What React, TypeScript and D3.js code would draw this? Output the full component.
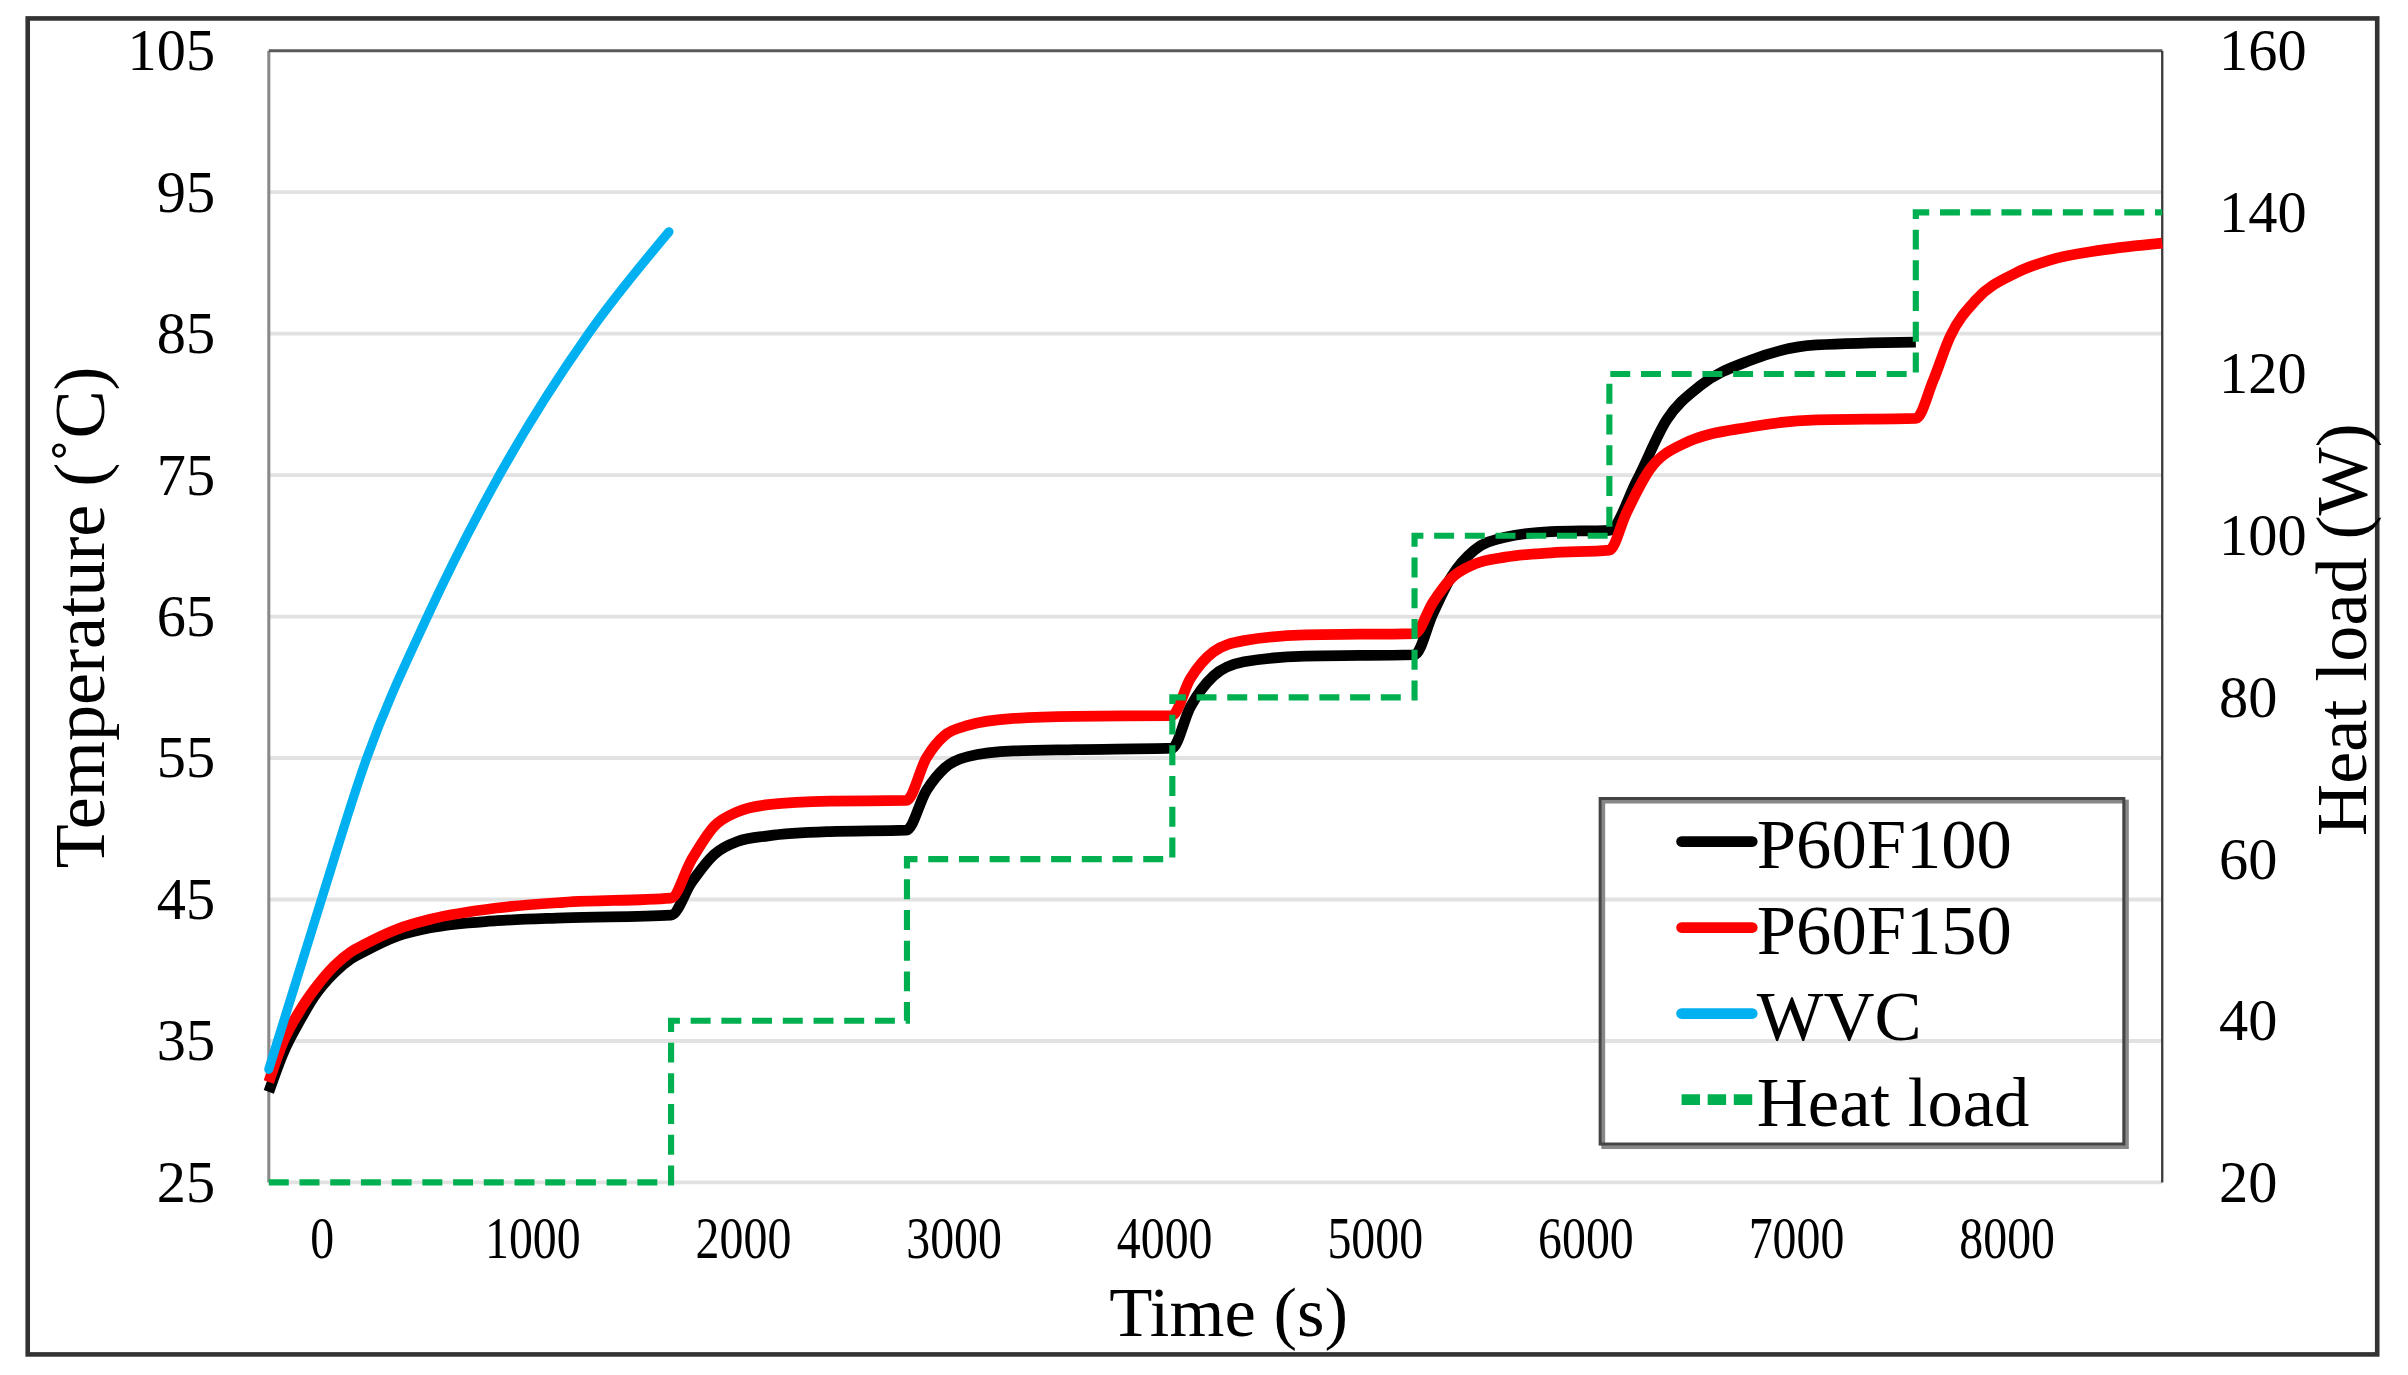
import { useRef, useEffect } from "react";
import * as d3 from "d3";

// values (time in s, temperature in °C, heat load in W)
const timeTicks = [0, 1000, 2000, 3000, 4000, 5000, 6000, 7000, 8000];
const tempTicks = [25, 35, 45, 55, 65, 75, 85, 95, 105];
const loadTicks = [20, 40, 60, 80, 100, 120, 140, 160];

const p60f100: [number, number][] = [
  [-250, 31.4], [-180, 34.2], [-100, 36.5], [-36, 38.1], [60, 39.8], [140, 40.8], [201, 41.3],
  [359, 42.4], [517, 43.0], [834, 43.5], [1150, 43.7], [1660, 43.9],
  [1757, 46.2], [1866, 48.2], [1975, 49.1], [2121, 49.5], [2413, 49.8], [2777, 49.9],
  [2872, 52.7], [2959, 54.3], [3069, 55.1], [3287, 55.5], [3579, 55.6], [4038, 55.7],
  [4125, 58.6], [4235, 60.8], [4380, 61.8], [4672, 62.2], [5190, 62.3],
  [5277, 65.2], [5364, 67.8], [5474, 69.7], [5620, 70.6], [5838, 71.0], [6115, 71.1],
  [6245, 74.6], [6387, 78.9], [6545, 81.3], [6782, 83.1], [7099, 84.2], [7570, 84.4],
];

const p60f150: [number, number][] = [
  [-250, 32.1], [-180, 35.0], [-100, 37.2], [-36, 38.6], [60, 40.3], [140, 41.3], [201, 41.8],
  [359, 42.9], [517, 43.6], [834, 44.4], [1150, 44.8], [1660, 45.1],
  [1757, 47.8], [1866, 50.2], [1975, 51.2], [2121, 51.7], [2413, 51.95], [2777, 52.0],
  [2872, 55.0], [2959, 56.6], [3069, 57.3], [3287, 57.8], [3579, 57.95], [4038, 58.0],
  [4125, 60.6], [4235, 62.5], [4380, 63.3], [4672, 63.7], [5190, 63.8],
  [5277, 66.0], [5364, 67.7], [5474, 68.7], [5620, 69.2], [5838, 69.5], [6115, 69.7],
  [6195, 72.3], [6307, 75.4], [6465, 77.2], [6782, 78.4], [7099, 78.9], [7570, 79.0],
  [7653, 81.7], [7733, 84.8], [7857, 87.4], [8047, 89.3], [8207, 90.2], [8450, 90.9], [8740, 91.4],
];

const wvc: [number, number][] = [
  [-250, 33.0], [0, 45.0], [215, 55.0], [503, 65.0], [845, 75.0], [1268, 85.0], [1650, 92.2],
];

const heatLoad: [number, number][] = [
  [-250, 20], [1660, 40], [2780, 60], [4040, 80], [5190, 100], [6115, 120], [7570, 140], [8740, 140],
];

const legendItems = [
  { label: "P60F100", color: "#000000", dash: null },
  { label: "P60F150", color: "#ff0000", dash: null },
  { label: "WVC", color: "#00b0f0", dash: null },
  { label: "Heat load", color: "#00b050", dash: "12,5" },
];

const FONT = "'Liberation Serif', 'Times New Roman', serif";

export default function App() {
  const svgRef = useRef<SVGSVGElement>(null);

  useEffect(() => {
    if (!svgRef.current) return;
    const W = 1568;
    const H = 895.4;
    const plot = { left: 175, right: 1408, top: 33, bottom: 770 };

    const svg = d3.select(svgRef.current);
    svg.selectAll("*").remove();
    svg.attr("viewBox", `0 0 ${W} ${H}`);

    svg.append("rect").attr("width", W).attr("height", H).attr("fill", "#fff");

    // outer frame
    svg.append("rect")
      .attr("x", 18).attr("y", 12).attr("width", 1530).attr("height", 870)
      .attr("fill", "none").attr("stroke", "#333").attr("stroke-width", 3);

    const x = d3.scaleLinear().domain([-250, 8740]).range([plot.left, plot.right]);
    const yT = d3.scaleLinear().domain([25, 105]).range([plot.bottom, plot.top]);
    const yW = d3.scaleLinear().domain([20, 160]).range([plot.bottom, plot.top]);

    // gridlines
    svg.append("g")
      .selectAll("line")
      .data(tempTicks.slice(0, -1))
      .join("line")
      .attr("x1", plot.left).attr("x2", plot.right)
      .attr("y1", (d) => yT(d)).attr("y2", (d) => yT(d))
      .attr("stroke", "#e2e2e2").attr("stroke-width", 2.5);

    // plot border (left, top, right)
    svg.append("line").attr("x1", plot.left).attr("x2", plot.left).attr("y1", plot.top).attr("y2", plot.bottom)
      .attr("stroke", "#8a8a8a").attr("stroke-width", 2);
    svg.append("line").attr("x1", plot.left).attr("x2", plot.right).attr("y1", plot.top).attr("y2", plot.top)
      .attr("stroke", "#5a5a5a").attr("stroke-width", 2);
    svg.append("line").attr("x1", plot.right).attr("x2", plot.right).attr("y1", plot.top).attr("y2", plot.bottom)
      .attr("stroke", "#3a3a3a").attr("stroke-width", 1.5);

    // axes
    const styleAxis = (g: d3.Selection<SVGGElement, unknown, null, undefined>, size: number) => {
      g.select(".domain").remove();
      g.selectAll("text").style("font-family", FONT).style("font-size", `${size}px`).attr("fill", "#000");
    };

    svg.append("g")
      .attr("transform", `translate(${plot.left},0)`)
      .call(d3.axisLeft(yT).tickValues(tempTicks).tickSize(0).tickPadding(35))
      .call((g) => styleAxis(g, 38));

    svg.append("g")
      .attr("transform", `translate(${plot.right},0)`)
      .call(d3.axisRight(yW).tickValues(loadTicks).tickSize(0).tickPadding(37))
      .call((g) => styleAxis(g, 38));

    svg.append("g")
      .attr("transform", `translate(0,${plot.bottom})`)
      .call(d3.axisBottom(x).tickValues(timeTicks).tickFormat(d3.format("d")).tickSize(0).tickPadding(22))
      .call((g) => styleAxis(g, 38))
      .selectAll("text")
      .attr("transform", "scale(0.82,1)");

    // series
    const lineT = d3.line<[number, number]>()
      .x((d) => x(d[0]))
      .y((d) => yT(d[1]))
      .curve(d3.curveMonotoneX);

    svg.append("path").datum(p60f100).attr("d", lineT)
      .attr("fill", "none").attr("stroke", "#000").attr("stroke-width", 7).attr("stroke-linejoin", "round");
    svg.append("path").datum(p60f150).attr("d", lineT)
      .attr("fill", "none").attr("stroke", "#ff0000").attr("stroke-width", 7).attr("stroke-linejoin", "round");
    svg.append("path").datum(wvc).attr("d", lineT)
      .attr("fill", "none").attr("stroke", "#00b0f0").attr("stroke-width", 6).attr("stroke-linecap", "round");

    const lineW = d3.line<[number, number]>()
      .x((d) => x(d[0]))
      .y((d) => yW(d[1]))
      .curve(d3.curveStepAfter);
    svg.append("path").datum(heatLoad).attr("d", lineW)
      .attr("fill", "none").attr("stroke", "#00b050").attr("stroke-width", 4)
      .attr("stroke-dasharray", "13,7");

    // axis titles
    svg.append("text")
      .attr("transform", "translate(68,402) rotate(-90)")
      .attr("text-anchor", "middle")
      .style("font-family", FONT).style("font-size", "47px")
      .text("Temperature (˚C)");

    svg.append("text")
      .attr("transform", "translate(1541,410) rotate(-90)")
      .attr("text-anchor", "middle")
      .style("font-family", FONT).style("font-size", "47px")
      .text("Heat load (W)");

    svg.append("text")
      .attr("x", 800).attr("y", 870)
      .attr("text-anchor", "middle")
      .style("font-family", FONT).style("font-size", "46px")
      .text("Time (s)");

    // legend
    const lg = svg.append("g").attr("transform", "translate(1042,520)");
    lg.append("rect").attr("x", 2).attr("y", 2).attr("width", 341).attr("height", 225)
      .attr("fill", "none").attr("stroke", "#888").attr("stroke-width", 2.5);
    lg.append("rect").attr("width", 341).attr("height", 225)
      .attr("fill", "none").attr("stroke", "#444").attr("stroke-width", 2);
    const rows = lg.selectAll("g.item")
      .data(legendItems)
      .join("g")
      .attr("class", "item")
      .attr("transform", (_, i) => `translate(0,${28 + i * 56})`);
    rows.append("line")
      .attr("x1", 53).attr("x2", 99).attr("y1", 0).attr("y2", 0)
      .attr("stroke", (d) => d.color).attr("stroke-width", 7)
      .attr("stroke-linecap", (d) => (d.dash ? "butt" : "round"))
      .attr("stroke-dasharray", (d) => d.dash ?? null);
    rows.append("text")
      .attr("x", 102).attr("y", 17)
      .style("font-family", FONT).style("font-size", "46px")
      .text((d) => d.label);
  }, []);

  return (
    <svg
      ref={svgRef}
      width={2408}
      height={1375}
      style={{ position: "absolute", left: 0, top: 0, display: "block" }}
    />
  );
}
